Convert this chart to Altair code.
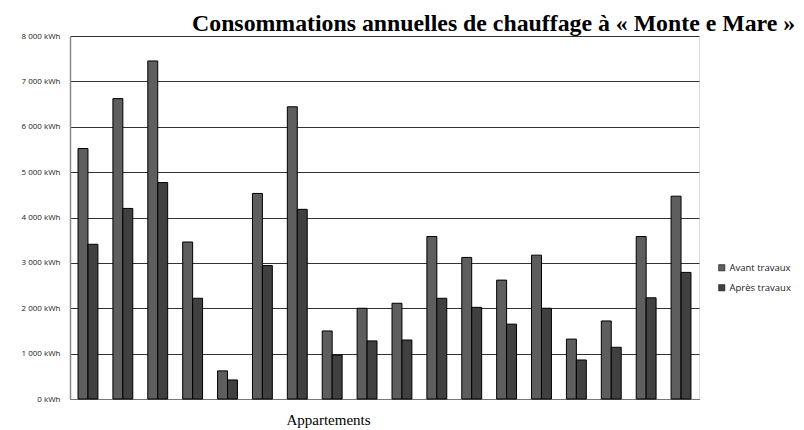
import altair as alt
import pandas as pd

apartments = [f"A{i}" for i in range(1, 19)]
avant = [5520, 6620, 7450, 3460, 620, 4530, 6440, 1500, 2000, 2110, 3580, 3120, 2620, 3170, 1320, 1720, 3580, 4470]
apres = [3410, 4200, 4770, 2220, 420, 2940, 4180, 970, 1280, 1300, 2220, 2020, 1650, 2000, 860, 1140, 2230, 2790]
series = ["Avant travaux", "Après travaux"]

rows = []
for a, v1, v2 in zip(apartments, avant, apres):
    rows.append({"app": a, "serie": series[0], "kwh": v1})
    rows.append({"app": a, "serie": series[1], "kwh": v2})
df = pd.DataFrame(rows)

chart = alt.Chart(df).mark_bar(stroke="black", strokeWidth=1).encode(
    x=alt.X("app:N", sort=apartments,
            scale=alt.Scale(paddingInner=0.43, paddingOuter=0.23),
            axis=alt.Axis(title="Appartements", labels=False, ticks=False,
                          domainColor="#777", domainWidth=1,
                          titleFont="Liberation Serif", titleFontWeight="normal",
                          titleFontSize=15, titleColor="black", titlePadding=13,
                          titleX=258, titleAlign="center")),
    xOffset=alt.XOffset("serie:N", sort=series, scale=alt.Scale(paddingInner=0, paddingOuter=0)),
    y=alt.Y("kwh:Q", scale=alt.Scale(domain=[0, 8000]),
            axis=alt.Axis(title=None, values=[0, 1000, 2000, 3000, 4000, 5000, 6000, 7000, 8000],
                          labelExpr="replace(format(datum.value, ',d'), ',', ' ') + ' kWh'",
                          labelOverlap=False,
                          ticks=False, labelPadding=10, labelFont="Open Sans", labelFontSize=8,
                          labelColor="#222", domainColor="#888", domainWidth=1.5,
                          gridColor="#333", gridWidth=1)),
    color=alt.Color("serie:N", sort=series,
                    scale=alt.Scale(domain=series, range=["#5e5e5e", "#404040"]),
                    legend=alt.Legend(title=None, orient="none", legendX=647, legendY=227,
                                      symbolType="square", symbolSize=40, symbolStrokeColor="black",
                                      symbolStrokeWidth=0.5, labelFont="Open Sans", labelFontSize=9.5,
                                      labelOffset=3, labelColor="#222", rowPadding=9)),
).properties(
    width=629, height=363,
    title=alt.TitleParams("Consommations annuelles de chauffage à « Monte e Mare »",
                          anchor="start", dx=171, offset=-4, font="Liberation Serif",
                          fontSize=23.8, fontWeight="bold", color="black"),
    padding={"left": 62, "top": 28, "right": 96, "bottom": 31},
    autosize=alt.AutoSizeParams(type="none"),
).configure_view(stroke=None).configure(background="white")

chart.save("out.html", embed_options={"renderer": "svg", "actions": False})
